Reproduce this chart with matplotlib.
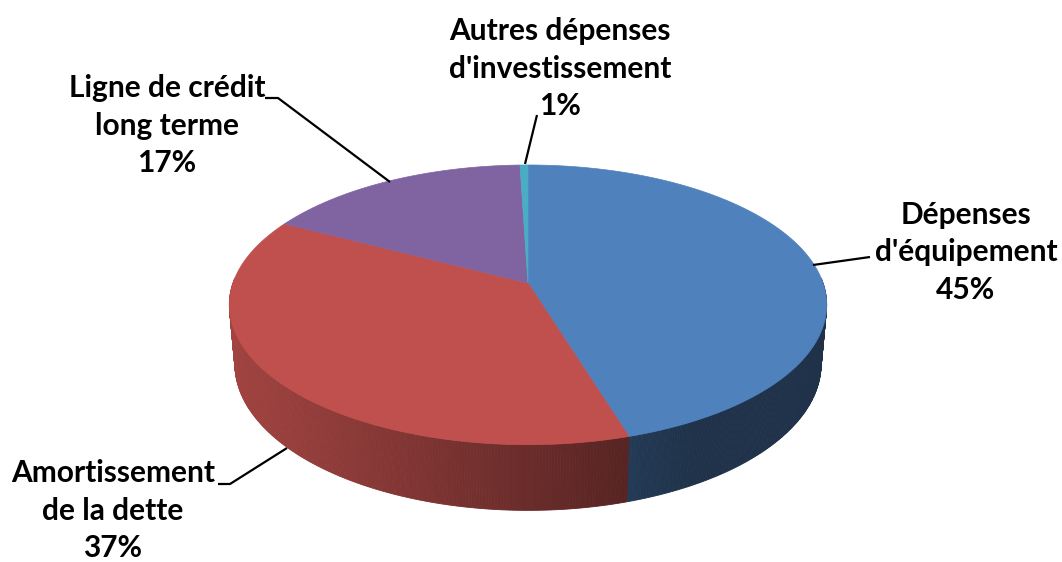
import numpy as np
import matplotlib
matplotlib.use("Agg")
import matplotlib.pyplot as plt
from matplotlib.patches import Polygon
from matplotlib.colors import to_rgb

# ---- data ----
categories = ["Dépenses\nd'équipement", "Amortissement\nde la dette",
              "Ligne de crédit\nlong terme", "Autres dépenses\nd'investissement"]
values = [45.3, 37.4, 16.8, 0.5]          # percent
colors = ["#4F81BD", "#C0504D", "#8064A2", "#4BACC6"]

# ---- layout / projection parameters (pixel space) ----
W, H = 1062, 562
CX, CY = 528, 283          # projected pie centre
S = 295                    # radius scale
SN, CS = 0.4625, 0.887     # sin / cos of tilt
F = 5.68                   # perspective distance
DEPTH = 0.228              # thickness


def proj(theta_deg, z):
    t = np.radians(theta_deg)
    x3, y3 = np.sin(t), np.cos(t)
    ys = y3 * SN + z * CS
    d = y3 * CS - z * SN
    k = F / (F + d)
    return CX + S * x3 * k, CY - S * ys * k


def side_factor(xpix):
    f = 0.83 - 0.37 * (xpix - 240) / 380
    return float(np.clip(f, 0.39, 0.85))


fig = plt.figure(figsize=(W / 100, H / 100), dpi=100)
ax = fig.add_axes([0, 0, 1, 1])
ax.set_xlim(0, W)
ax.set_ylim(H, 0)
ax.axis("off")

total = float(sum(values))
bounds = np.concatenate([[0], np.cumsum(values) / total * 360.0])

# sides (front-facing part, theta in [90, 270])
for i in range(len(values)):
    a0, a1 = bounds[i], bounds[i + 1]
    lo, hi = max(a0, 88), min(a1, 272)
    if hi <= lo:
        continue
    base = np.array(to_rgb(colors[i]))
    steps = np.linspace(lo, hi, int((hi - lo) * 2) + 2)
    for t0, t1 in zip(steps[:-1], steps[1:]):
        p = [proj(t0, 0), proj(t1, 0), proj(t1, -DEPTH), proj(t0, -DEPTH)]
        xm = (p[0][0] + p[1][0]) / 2
        col = base * side_factor(xm)
        ax.add_patch(Polygon(p, closed=True, facecolor=col, edgecolor=col,
                             linewidth=0.6, antialiased=True))

# top faces
for i in range(len(values)):
    a0, a1 = bounds[i], bounds[i + 1]
    ts = np.linspace(a0, a1, max(int((a1 - a0) * 2), 2) + 1)
    pts = [(CX, CY)] + [proj(t, 0) for t in ts]
    ax.add_patch(Polygon(pts, closed=True, facecolor=colors[i],
                         edgecolor=colors[i], linewidth=0.5))

# labels (x centre, first baseline)
font = dict(family="Lato", fontweight="bold", fontsize=21.5, color="black")
label_pos = [(966, 224), (113, 482), (167, 97), (560, 40)]
pitch = 37.5
for i, (cat, v) in enumerate(zip(categories, values)):
    lines = cat.split("\n") + [f"{int(v + 0.5)}%"]
    x, y0 = label_pos[i]
    for j, ln in enumerate(lines):
        ax.text(x, y0 + j * pitch, ln, ha="center", va="baseline", **font)

# leader lines
leaders = [
    [(813, 265), (870, 257)],
    [(287, 448), (230, 484), (218, 484)],
    [(390, 182), (278, 98), (265, 98)],
    [(525, 164), (537, 115)],
]
for pts in leaders:
    xs, ys = zip(*pts)
    ax.plot(xs, ys, color="black", linewidth=1.6, solid_capstyle="butt")

fig.savefig("out.png", dpi=100, facecolor="white")
